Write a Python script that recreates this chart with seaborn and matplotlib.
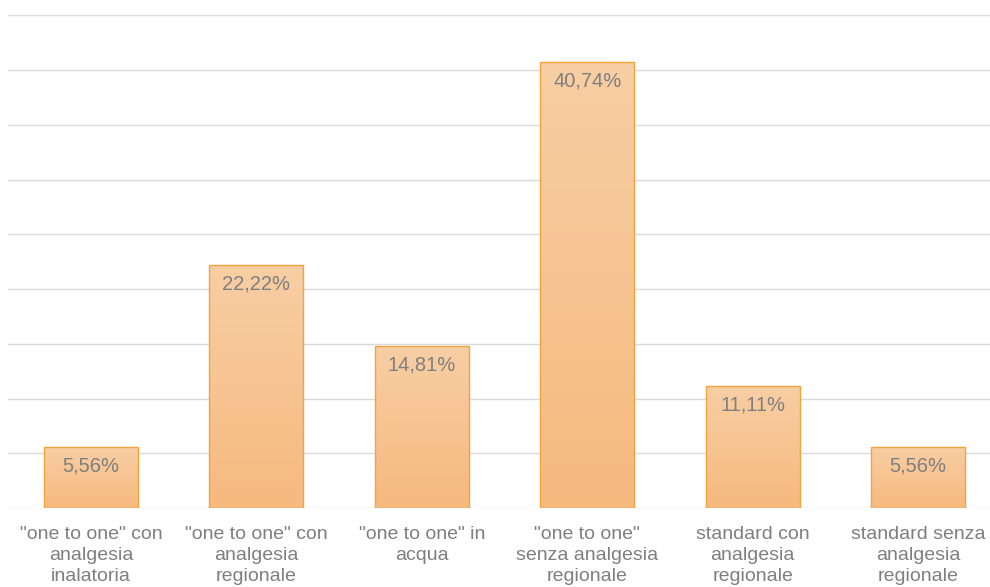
import numpy as np
import pandas as pd
import matplotlib
matplotlib.use("Agg")
import matplotlib.pyplot as plt
import seaborn as sns
from matplotlib.colors import LinearSegmentedColormap

categories = ['"one to one" con\nanalgesia\ninalatoria',
              '"one to one" con\nanalgesia\nregionale',
              '"one to one" in\nacqua',
              '"one to one"\nsenza analgesia\nregionale',
              'standard con\nanalgesia\nregionale',
              'standard senza\nanalgesia\nregionale']
values = [5.56, 22.22, 14.81, 40.74, 11.11, 5.56]
labels = ["5,56%", "22,22%", "14,81%", "40,74%", "11,11%", "5,56%"]

sns.set_theme(style="white")
plt.rcParams['font.family'] = ['Liberation Sans', 'DejaVu Sans']

fig = plt.figure(figsize=(9.9, 5.87), dpi=100)
ax = fig.add_axes([0.0084, 0.1346, 1.0024, 0.8390])

df = pd.DataFrame({"cat": categories, "val": values})
sns.barplot(data=df, x="cat", y="val", ax=ax, width=0.568,
            color="#F7C392", edgecolor="#F2A43A", linewidth=1.0, saturation=1)

ax.set_ylim(0, 45)
ax.set_xlim(-0.5, 5.5)
ax.set_yticks(np.arange(0, 46, 5))
ax.yaxis.grid(True, color="#d9d9d9", linewidth=1.0)
ax.set_axisbelow(True)
ax.tick_params(axis="y", left=False, labelleft=False)
ax.tick_params(axis="x", bottom=False, labelsize=14, colors="#7f7f7f", pad=7)
for lbl in ax.get_xticklabels():
    lbl.set_linespacing(1.31)
    lbl.set_verticalalignment("top")
for s in ax.spines.values():
    s.set_visible(False)
ax.set_xlabel("")
ax.set_ylabel("")

# gradient fill inside bars
cmap = LinearSegmentedColormap.from_list("g", ["#F6B97E", "#F8CEA4"])
grad = np.linspace(0, 1, 256).reshape(-1, 1)
for p in ax.patches:
    x0, y0 = p.get_x(), p.get_y()
    w, h = p.get_width(), p.get_height()
    im = ax.imshow(grad, extent=[x0, x0 + w, y0, y0 + h], origin="lower",
                   cmap=cmap, aspect="auto", zorder=p.get_zorder() - 0.01)
    im.set_clip_path(p)
    p.set_facecolor("none")
ax.set_xlim(-0.5, 5.5)
ax.set_ylim(0, 45)

for i, (v, t) in enumerate(zip(values, labels)):
    ax.annotate(t, xy=(i, v), xytext=(0, -13.5), textcoords="offset points",
                ha="center", va="center", fontsize=14.5, color="#7f7f7f")

fig.savefig("out.png", dpi=100)
